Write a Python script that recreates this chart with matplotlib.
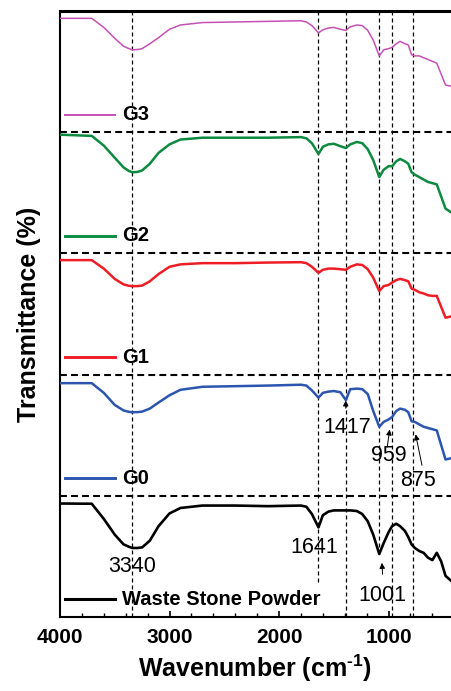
import numpy as np
import matplotlib.pyplot as plt
from matplotlib.ticker import MultipleLocator

plt.rcParams['font.family'] = ['Liberation Sans', 'DejaVu Sans']
plt.rcParams['axes.unicode_minus'] = False
plt.rcParams['mathtext.fontset'] = 'custom'
plt.rcParams['mathtext.bf'] = 'Liberation Sans:bold'
plt.rcParams['mathtext.rm'] = 'Liberation Sans:bold'

# ==============================================================================
# DATA (transmittance in % of each stacked band)
# ==============================================================================
WAVENUMBER = [4000, 3710, 3600, 3500, 3420, 3370, 3340, 3290, 3250, 3180, 3100, 3000,
              2900, 2700, 2400, 2100, 1800, 1750, 1700, 1640, 1600, 1550,
              1500, 1440, 1390, 1350, 1290, 1240, 1190, 1140, 1085, 1045,
              1000, 968, 930, 895, 850, 820, 790, 760, 720, 680,
              640, 600, 560, 520, 480, 430]

T_G3 = [94, 94, 86.5, 77.5, 71, 69, 68, 68.3, 69, 73, 78, 85,
        88.5, 90.5, 91, 91.5, 92, 91, 88, 82, 84.5, 86,
        86.5, 85, 84, 87, 88.5, 88, 84, 76, 63, 68,
        69, 70, 73, 75, 73, 72, 64, 63, 63, 61.5,
        60, 58.5, 57, 48, 39, 38]

T_G2 = [98, 97, 89, 79, 71, 68, 67, 67.3, 68.5, 74, 83, 90,
        94, 95.5, 95.5, 95.5, 96, 95, 91, 82, 88, 90,
        90.5, 88.5, 87, 90, 92, 91, 86, 77, 63, 69,
        72, 72, 76, 78, 76, 74, 67, 65, 63, 61,
        59, 58, 57, 47, 37, 34]

T_G1 = [94.5, 94.5, 87.5, 79, 74.5, 73.3, 73, 73.1, 73.5, 77, 83, 89,
        91, 92, 92, 92.5, 92.8, 92, 89, 84, 86.5, 87.5,
        87.5, 87, 86.5, 89, 91, 90.5, 87, 80, 69, 73,
        74, 76, 78, 79, 78, 77, 71, 70, 68, 67,
        65.5, 65, 65, 56, 47, 48]

T_G0 = [93, 93, 85, 75, 70.5, 69.3, 69, 69.1, 69.5, 72, 77, 83,
        87.5, 90, 90.5, 91, 91.7, 91, 87, 81, 85, 86,
        86.5, 85.5, 79, 88, 88.5, 88, 84, 70, 57, 61,
        63, 65, 70, 72, 71, 69, 61.5, 61, 59, 57,
        56, 55, 54, 42, 30, 31]

T_WSP = [93.7, 93.5, 81, 68, 60, 58, 57, 57, 57.5, 63, 75, 85.5,
         90, 92, 92, 91.5, 92, 91, 85, 74, 84, 87,
         88, 88, 88, 88, 87.5, 85, 79, 68, 52, 61,
         70, 75, 77, 75, 71, 66, 60, 57, 54.5, 53,
         49, 47, 53, 46, 34, 30]

LABELS = ["G3", "G2", "G1", "G0", "Waste Stone Powder"]
SPECTRA = [T_G3, T_G2, T_G1, T_G0, T_WSP]
COLORS = ["#C650B5", "#0C8A3F", "#EE1D25", "#2B55AE", "#000000"]
WIDTHS = [1.1, 1.8, 1.8, 1.8, 1.9]

# vertical reference lines: wavenumber, lower end (band units)
PEAK_LINES = [(3340, 0.0), (1640, 0.29), (1390, 0.0), (1085, 0.52), (968, 0.0), (780, 0.0)]

# ==============================================================================
# PLOT
# ==============================================================================
fig = plt.figure(figsize=(4.51, 6.91), dpi=100)
ax = fig.add_axes([0.133, 0.107, 0.867, 0.877])

n = len(SPECTRA)
for i, (lab, T, c, lw) in enumerate(zip(LABELS, SPECTRA, COLORS, WIDTHS)):
    top = n - i
    y = top - 1 + np.array(T) / 100.0
    ax.plot(WAVENUMBER, y, color=c, lw=lw, zorder=3, solid_joinstyle="round")
    # in-band legend
    ax.plot([3950, 3500], [top - 0.855] * 2, color=c, lw=lw + 0.3, zorder=3)
    ax.text(3434, top - 0.855, lab, fontsize=14.5, fontweight="bold",
            ha="left", va="center")

for k in range(1, n):
    ax.axhline(k, color="black", lw=1.5, ls=(0, (3.3, 2)), zorder=2)

for wn, ylo in PEAK_LINES:
    ax.vlines(wn, ylo, n, color="black", lw=0.9, ls=(0, (3.2, 2.4)), zorder=2)

# peak labels
fs = 15.5
ax.text(3340, 0.42, "3340", fontsize=fs, ha="center", va="center")
ax.text(1680, 0.57, "1641", fontsize=fs, ha="center", va="center")
ax.text(1060, 0.18, "1001", fontsize=fs, ha="center", va="center")
ax.text(1379, 1.567, "1417", fontsize=fs, ha="center", va="center")
ax.text(995, 1.33, "959", fontsize=fs, ha="center", va="center")
ax.text(731, 1.13, "875", fontsize=fs, ha="center", va="center")

arrow = dict(arrowstyle="-|>", color="black", lw=0.7, mutation_scale=8)
ax.annotate("", xy=(1391, 1.81), xytext=(1391, 1.70), arrowprops=arrow)
ax.annotate("", xy=(986, 1.57), xytext=(1016, 1.38), arrowprops=arrow)
ax.annotate("", xy=(758, 1.53), xytext=(690, 1.23), arrowprops=arrow)
ax.annotate("", xy=(1062, 0.47), xytext=(1053, 0.33), arrowprops=arrow)

ax.set_xlim(4000, 430)
ax.set_ylim(0, n)
ax.set_yticks([])
ax.xaxis.set_major_locator(MultipleLocator(1000))
ax.xaxis.set_minor_locator(MultipleLocator(200))
ax.tick_params(axis="x", which="major", direction="in", length=4, width=1.2,
               labelsize=15, pad=8)
ax.tick_params(axis="x", which="minor", direction="in", length=3, width=1.0)
for lbl in ax.get_xticklabels():
    lbl.set_fontweight("bold")

ax.spines["right"].set_visible(False)
ax.spines["top"].set_linewidth(2.2)
ax.spines["left"].set_linewidth(1.5)
ax.spines["bottom"].set_linewidth(1.5)

ax.set_xlabel("Wavenumber (cm$^{\\text{-1}}$)", fontsize=18, fontweight="bold", labelpad=4)
ax.set_ylabel("Transmittance (%)", fontsize=18, fontweight="bold", labelpad=14)

fig.savefig("out.png", dpi=100)
